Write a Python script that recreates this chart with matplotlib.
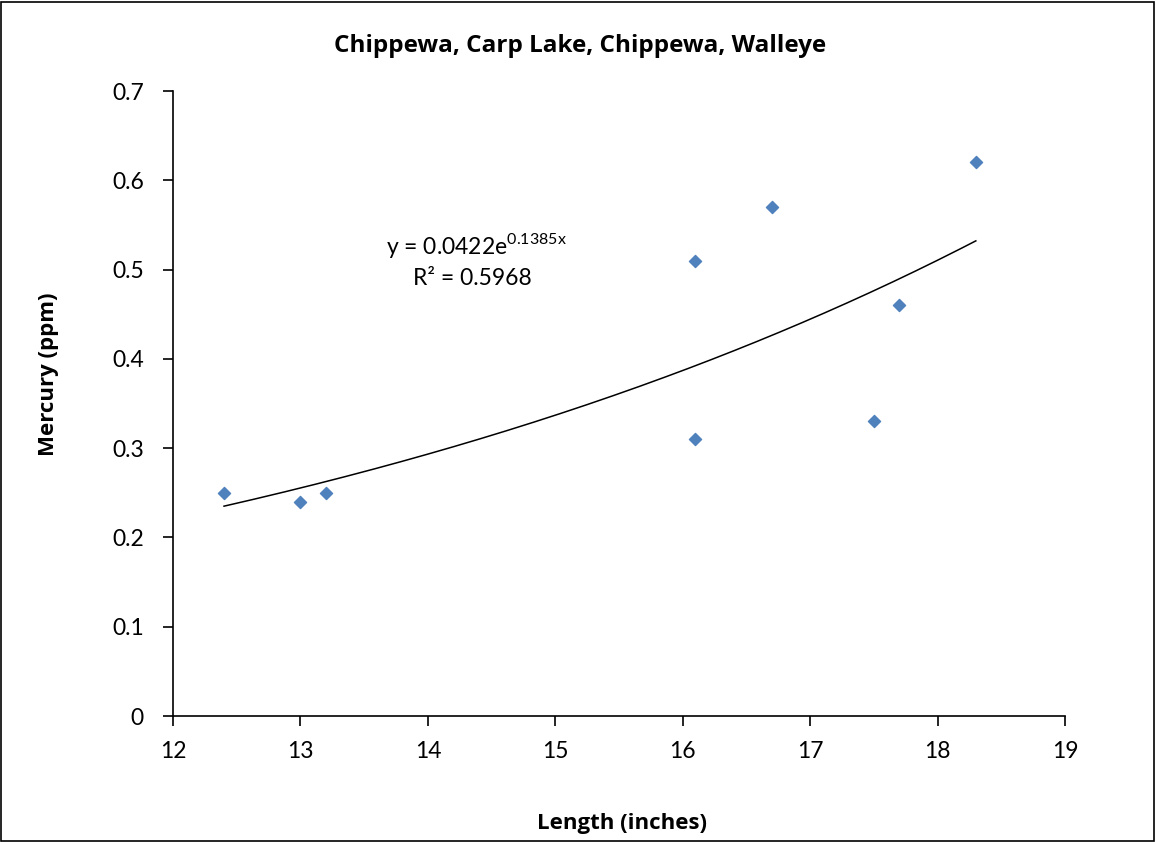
import numpy as np
import matplotlib.pyplot as plt
from matplotlib.patches import Rectangle

plt.rcParams['font.family'] = ['Lato', 'DejaVu Sans']
plt.rcParams['mathtext.fontset'] = 'custom'
plt.rcParams['mathtext.rm'] = 'Lato'

# data
length = [12.4, 13.0, 13.2, 16.1, 16.1, 16.7, 17.5, 17.7, 18.3]
mercury = [0.25, 0.24, 0.25, 0.51, 0.31, 0.57, 0.33, 0.46, 0.62]
coef_a = 0.0422
coef_b = 0.1385
r2 = 0.5968
x_ticks = [12, 13, 14, 15, 16, 17, 18, 19]
y_ticks = [0, 0.1, 0.2, 0.3, 0.4, 0.5, 0.6, 0.7]
y_labels = ['0', '0.1', '0.2', '0.3', '0.4', '0.5', '0.6', '0.7']

fig = plt.figure(figsize=(11.56, 8.42), dpi=100)
ax = fig.add_axes([0.1497, 0.1496, 0.7716, 0.7423])

xs = np.linspace(min(length), max(length), 200)
ax.plot(xs, coef_a * np.exp(coef_b * xs), color='black', lw=1.1)
ax.scatter(length, mercury, marker='D', s=38, color='#4F81BD', zorder=3)

ax.set_xlim(12, 19)
ax.set_ylim(0, 0.7)
ax.set_xticks(x_ticks)
ax.set_yticks(y_ticks)
ax.set_yticklabels(y_labels)
ax.tick_params(direction='out', length=7, width=1.2, labelsize=16.5)
ax.tick_params(axis='y', pad=14)
ax.tick_params(axis='x', pad=11)
for s in ['left', 'bottom']:
    ax.spines[s].set_linewidth(1.2)
for s in ['top', 'right']:
    ax.spines[s].set_visible(False)

ax.text(14.38, 0.527, r'y = 0.0422e$^{\mathregular{0.1385x}}$', ha='center', va='center', fontsize=16.5)
ax.text(14.35, 0.49, 'R² = %.4f' % r2, ha='center', va='center', fontsize=16.5)

bold = dict(family=['Open Sans', 'DejaVu Sans'], fontweight='bold')
fig.text(0.502, 0.945, 'Chippewa, Carp Lake, Chippewa, Walleye', ha='center', va='center',
         fontsize=17.5, **bold)
fig.text(0.538, 0.022, 'Length (inches)', ha='center', va='center', fontsize=16, **bold)
fig.text(0.042, 0.555, 'Mercury (ppm)', ha='center', va='center', rotation=90, fontsize=16, **bold)

fig.patches.append(Rectangle((0.0005, 0.001), 0.998, 0.997, transform=fig.transFigure,
                             fill=False, edgecolor='black', lw=1.2))

fig.savefig('out.png', dpi=100)
